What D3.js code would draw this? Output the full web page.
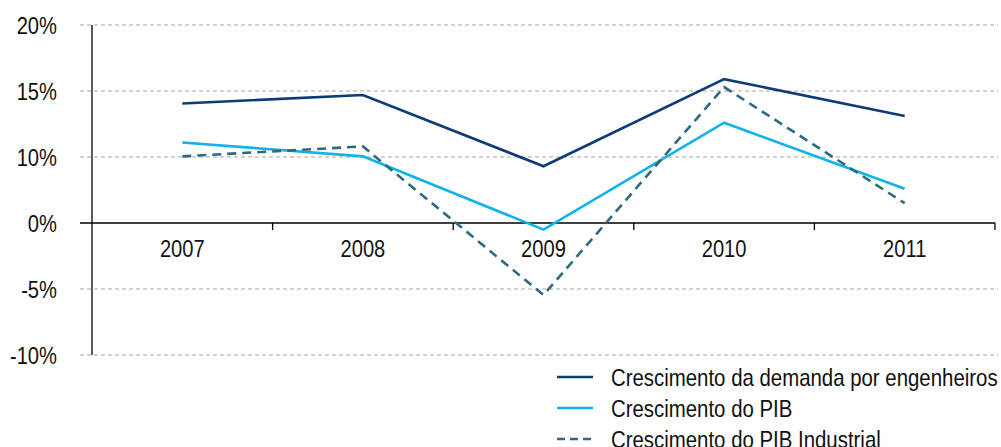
<!DOCTYPE html>
<html>
<head>
<meta charset="UTF-8">
<style>
body { margin: 0; background: #fff; }
svg text { font-family: "Liberation Sans", Arial, sans-serif; fill: #111; }
.grid line { stroke: #a6a6a6; stroke-width: 1.2px; stroke-dasharray: 4,3; }
.line { fill: none; stroke-width: 2.6px; stroke-linejoin: miter; }
</style>
</head>
<body>
<svg class="chart" width="1001" height="447"></svg>
<script src="https://d3js.org/d3.v7.min.js"></script>
<script>

// categories and series (percent)
var years = ["2007", "2008", "2009", "2010", "2011"];
var engenheiros = [9.05, 9.7, 4.3, 10.9, 8.1];
var pib = [6.1, 5.05, -0.5, 7.6, 2.6];
var pibIndustrial = [5.05, 5.8, -5.45, 10.3, 1.5];

// gridline values and the labels printed next to them on the original
var tickValues = [15, 10, 5, 0, -5, -10];
var tickLabels = ["20%", "15%", "10%", "0%", "-5%", "-10%"];

var seriesNames = ["Crescimento da demanda por engenheiros", "Crescimento do PIB", "Crescimento do PIB Industrial"];

var series = [
  {name: seriesNames[0], values: engenheiros, color: "#0b3c74", dash: null},
  {name: seriesNames[1], values: pib, color: "#0db3ea", dash: null},
  {name: seriesNames[2], values: pibIndustrial, color: "#2d6a80", dash: "9,6"}
];

var margin = {top: 25, right: 3, bottom: 92, left: 92},
    width = 1001 - margin.left - margin.right,
    height = 447 - margin.top - margin.bottom;

// narrow look: squeeze Liberation Sans horizontally
var squeeze = 0.84;

var svg = d3.select(".chart").append("g")
    .attr("transform", "translate(" + margin.left + "," + margin.top + ")");

var x = d3.scaleBand().domain(years).range([0, width - 3]);
var y = d3.scaleLinear().domain([-10, 15]).range([height, 0]);

// horizontal dashed grid
svg.append("g").attr("class", "grid")
  .selectAll("line")
  .data(tickValues.filter(function(d) { return d !== 0; }))
  .enter().append("line")
    .attr("x1", -12).attr("x2", width)
    .attr("y1", function(d) { return y(d); })
    .attr("y2", function(d) { return y(d); });

// y tick labels
svg.selectAll("text.ylab")
  .data(tickValues)
  .enter().append("text")
    .attr("class", "ylab")
    .attr("transform", function(d) { return "translate(-35," + y(d) + ") scale(" + squeeze + ",1)"; })
    .attr("dy", "0.36em")
    .attr("text-anchor", "end")
    .style("font-size", "24px")
    .text(function(d, i) { return tickLabels[i]; });

// y axis line
svg.append("line")
  .attr("x1", 0).attr("x2", 0)
  .attr("y1", y(15)).attr("y2", y(-10))
  .attr("stroke", "#000").attr("stroke-width", 1.3);

// zero line with category ticks
svg.append("line")
  .attr("x1", -12).attr("x2", width - 3)
  .attr("y1", y(0)).attr("y2", y(0))
  .attr("stroke", "#000").attr("stroke-width", 1.3);

svg.selectAll("line.cattick")
  .data(years)
  .enter().append("line")
    .attr("class", "cattick")
    .attr("x1", function(d) { return x(d) + x.bandwidth(); })
    .attr("x2", function(d) { return x(d) + x.bandwidth(); })
    .attr("y1", y(0)).attr("y2", y(0) + 7)
    .attr("stroke", "#000").attr("stroke-width", 1.3);

svg.selectAll("text.xlab")
  .data(years)
  .enter().append("text")
    .attr("class", "xlab")
    .attr("transform", function(d) {
      return "translate(" + (x(d) + x.bandwidth() / 2) + "," + (y(0) + 34) + ") scale(" + squeeze + ",1)";
    })
    .attr("text-anchor", "middle")
    .style("font-size", "24px")
    .text(function(d) { return d; });

// lines
var line = d3.line()
  .x(function(d, i) { return x(years[i]) + x.bandwidth() / 2; })
  .y(function(d) { return y(d); });

svg.selectAll("path.line")
  .data(series)
  .enter().append("path")
    .attr("class", "line")
    .attr("d", function(d) { return line(d.values); })
    .attr("stroke", function(d) { return d.color; })
    .attr("stroke-dasharray", function(d) { return d.dash; });

// legend
var legend = d3.select(".chart").append("g")
    .attr("transform", "translate(557,377)");

var item = legend.selectAll("g")
  .data(series)
  .enter().append("g")
    .attr("transform", function(d, i) { return "translate(0," + (i * 31) + ")"; });

item.append("line")
  .attr("x1", 0).attr("x2", 36)
  .attr("stroke", function(d) { return d.color; })
  .attr("stroke-width", 2.6)
  .attr("stroke-dasharray", function(d) { return d.dash ? "8,5" : null; });

item.append("text")
  .attr("transform", "translate(54,0) scale(0.85,1)")
  .attr("dy", "0.36em")
  .style("font-size", "24px")
  .text(function(d) { return d.name; });

</script>
</body>
</html>
